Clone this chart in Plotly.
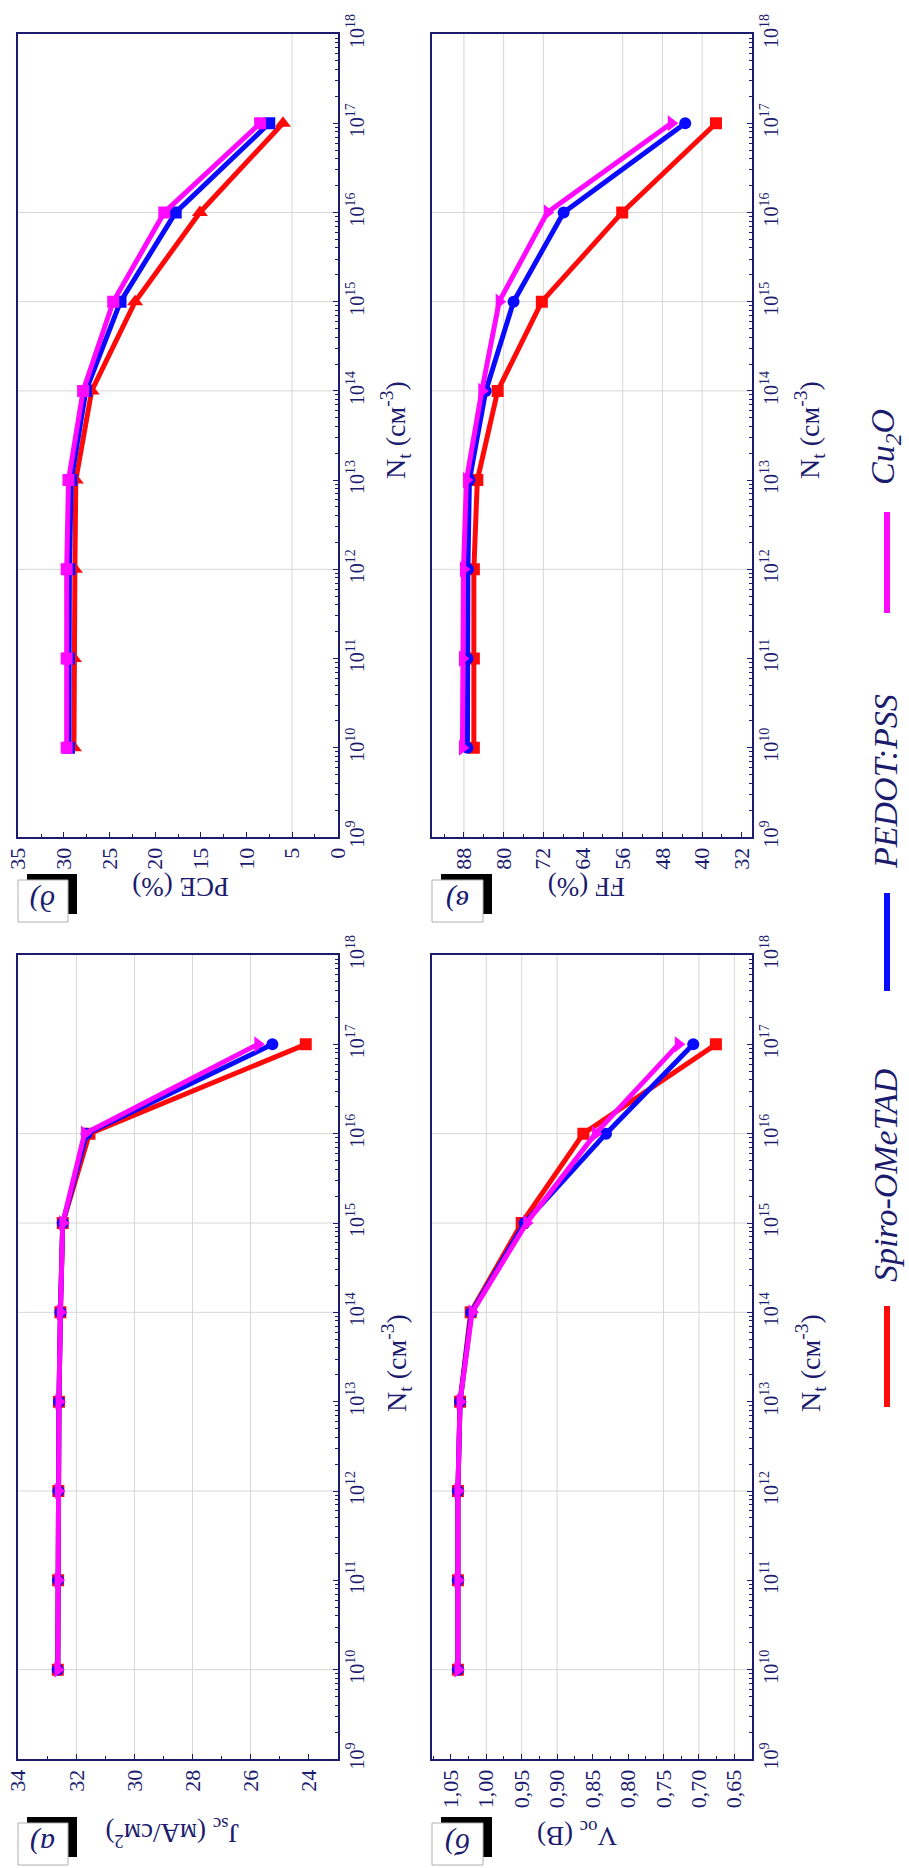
import plotly.graph_objects as go

# ---------------- data ----------------
nt = [1e10, 1e11, 1e12, 1e13, 1e14, 1e15, 1e16, 1e17]
series = ["Spiro-OMeTAD", "PEDOT:PSS", "Cu2O"]

jsc_spiro = [32.64, 32.63, 32.62, 32.60, 32.55, 32.47, 31.55, 24.10]
jsc_pedot = [32.64, 32.63, 32.62, 32.60, 32.55, 32.47, 31.65, 25.25]
jsc_cu2o = [32.64, 32.63, 32.62, 32.60, 32.55, 32.47, 31.72, 25.75]

voc_spiro = [1.040, 1.040, 1.040, 1.037, 1.022, 0.950, 0.863, 0.676]
voc_pedot = [1.040, 1.040, 1.040, 1.037, 1.021, 0.946, 0.831, 0.708]
voc_cu2o = [1.040, 1.040, 1.040, 1.037, 1.020, 0.943, 0.846, 0.729]

pce_spiro = [28.9, 28.9, 28.8, 28.7, 26.96, 22.2, 15.1, 6.0]
pce_pedot = [29.45, 29.45, 29.4, 29.2, 27.6, 23.8, 17.75, 7.5]
pce_cu2o = [29.7, 29.7, 29.7, 29.5, 27.9, 24.6, 19.0, 8.5]

ff_spiro = [86.0, 86.0, 86.0, 85.3, 81.2, 72.3, 56.1, 37.2]
ff_pedot = [87.3, 87.3, 87.2, 86.9, 83.6, 78.0, 67.9, 43.4]
ff_cu2o = [88.3, 88.3, 88.1, 87.5, 84.4, 80.9, 71.2, 46.2]

nt_exponents = list(range(9, 19))
nt_ticktext = [f"10<sup>{k}</sup>" for k in nt_exponents]

# ---------------- style ----------------
W, H = 909, 1868
NAVY = "#1c1c6e"
COLORS = ["#ff0a0a", "#0a0aff", "#ff0aff"]
FONT = "Liberation Serif, Times New Roman, serif"
GRID = "#d6d6d6"


def px(x):
    return x / W


def py(y):
    return 1 - y / H


panels = [
    dict(name="PCE", label="д)", title="PCE (%)",
         data=[pce_spiro, pce_pedot, pce_cu2o],
         symbols=["triangle-up", "square", "square"],
         xdom=(18.3, 337.7), ydom=(34, 837), rng=[35, 0], dtick=5, mdtick=2.5,
         fmt="", vgrid=[5], hgrid=[1e12, 1e14, 1e15, 1e16],
         title_pos=(181, 887), nt_title_pos=(396, 430),
         lab_box=(18, 68, 880, 922)),
    dict(name="FF", label="в)", title="FF (%)",
         data=[ff_spiro, ff_pedot, ff_cu2o],
         symbols=["square", "circle", "triangle-right"],
         xdom=(431.7, 751.7), ydom=(34, 837), rng=[94.5, 30], dtick=8, mdtick=4,
         fmt="", vgrid=[88, 80, 72, 56, 48, 40], hgrid=[1e12, 1e14, 1e15, 1e16],
         title_pos=(587, 887), nt_title_pos=(810, 430),
         lab_box=(432, 483, 880, 922)),
    dict(name="Jsc", label="а)", title="J<sub>sc</sub> (мА/см<sup>2</sup>)",
         data=[jsc_spiro, jsc_pedot, jsc_cu2o],
         symbols=["square", "circle", "triangle-right"],
         xdom=(18.3, 337.7), ydom=(955, 1759), rng=[34, 23], dtick=2, mdtick=1,
         fmt="", vgrid=[32, 30, 28, 26], hgrid=[1e10, 1e12, 1e14, 1e15, 1e16],
         title_pos=(172, 1833), nt_title_pos=(396, 1363),
         lab_box=(18, 68, 1823, 1865)),
    dict(name="Voc", label="б)", title="V<sub>oc</sub> (В)",
         data=[voc_spiro, voc_pedot, voc_cu2o],
         symbols=["square", "circle", "triangle-right"],
         xdom=(431.7, 751.7), ydom=(955, 1759), rng=[1.077, 0.6255], dtick=0.05, mdtick=0.025,
         fmt=".2f", vgrid=[1.00, 0.95, 0.90, 0.75, 0.70, 0.65], hgrid=[1e10, 1e12, 1e14, 1e15, 1e16],
         title_pos=(577, 1834), nt_title_pos=(810, 1363),
         lab_box=(432, 483, 1823, 1865)),
]

fig = go.Figure()
shapes = []
annotations = []
minor_nt = [m * 10 ** k for k in range(9, 18) for m in range(2, 10)]

for i, p in enumerate(panels):
    n = i + 1
    xa = "x" if n == 1 else f"x{n}"
    ya = "y" if n == 1 else f"y{n}"
    xkey = "xaxis" if n == 1 else f"xaxis{n}"
    ykey = "yaxis" if n == 1 else f"yaxis{n}"

    for s, vals in enumerate(p["data"]):
        sym = p["symbols"][s]
        fig.add_trace(go.Scatter(
            x=vals, y=nt, xaxis=xa, yaxis=ya, mode="lines+markers",
            name=series[s], showlegend=False,
            line=dict(color=COLORS[s], width=5),
            marker=dict(symbol=sym, size=14 if "triangle" in sym else 12,
                        color=COLORS[s], line=dict(width=0)),
        ))

    fig.layout[xkey] = dict(
        domain=[px(p["xdom"][0]), px(p["xdom"][1])], anchor=ya, range=p["rng"],
        side="bottom", tick0=0, dtick=p["dtick"], tickformat=p["fmt"], tickangle=-90,
        ticks="inside", ticklen=5, tickwidth=1.2, tickcolor=NAVY,
        minor=dict(dtick=p["mdtick"], tick0=0, ticks="inside", ticklen=3, tickcolor=NAVY, showgrid=False),
        showgrid=False, zeroline=False, showline=True, mirror=True, linecolor=NAVY, linewidth=2,
        tickfont=dict(family=FONT, size=22, color=NAVY), automargin=False,
    )
    fig.layout[ykey] = dict(
        domain=[py(p["ydom"][1]), py(p["ydom"][0])], anchor=xa, type="log", range=[9, 18],
        side="right", tickmode="array", tickvals=[10 ** k for k in nt_exponents], ticktext=nt_ticktext,
        tickangle=-90, ticks="inside", ticklen=5, tickwidth=1.2, tickcolor=NAVY,
        minor=dict(tickvals=minor_nt, ticks="inside", ticklen=3, tickcolor=NAVY, showgrid=False),
        showgrid=False, zeroline=False, showline=True, mirror=True, linecolor=NAVY, linewidth=2,
        tickfont=dict(family=FONT, size=20, color=NAVY), automargin=False,
    )

    # gridlines
    for v in p["vgrid"]:
        shapes.append(dict(type="line", xref=xa, yref=f"{ya} domain", x0=v, x1=v, y0=0, y1=1,
                           line=dict(color=GRID, width=1), layer="below"))
    for v in p["hgrid"]:
        shapes.append(dict(type="line", xref=f"{xa} domain", yref=ya, x0=0, x1=1, y0=v, y1=v,
                           line=dict(color=GRID, width=1), layer="below"))

    # value axis title (upside down)
    tx, ty = p["title_pos"]
    annotations.append(dict(text=p["title"], x=px(tx), y=py(ty), xref="paper", yref="paper",
                            showarrow=False, textangle=180, xanchor="center", yanchor="middle",
                            font=dict(family=FONT, size=27, color=NAVY)))
    # Nt title
    nx, ny = p["nt_title_pos"]
    annotations.append(dict(text="N<sub>t</sub> (см<sup>-3</sup>)", x=px(nx), y=py(ny),
                            xref="paper", yref="paper", showarrow=False, textangle=-90,
                            xanchor="center", yanchor="middle",
                            font=dict(family=FONT, size=28, color=NAVY)))
    # panel label with shadow box
    x0, x1, y0, y1 = p["lab_box"]
    shapes.append(dict(type="rect", xref="paper", yref="paper",
                       x0=px(x0 + 9), x1=px(x1 + 9), y0=py(y1 - 8), y1=py(y0 - 6),
                       fillcolor="black", line=dict(width=0)))
    shapes.append(dict(type="rect", xref="paper", yref="paper",
                       x0=px(x0), x1=px(x1), y0=py(y1), y1=py(y0),
                       fillcolor="white", line=dict(color="#b0b0b0", width=1)))
    annotations.append(dict(text=f"<i>{p['label']}</i>", x=px((x0 + x1) / 2), y=py((y0 + y1) / 2),
                            xref="paper", yref="paper", showarrow=False, textangle=180,
                            xanchor="center", yanchor="middle",
                            font=dict(family=FONT, size=30, color=NAVY)))

# legend (rotated)
legend_items = [
    ("<i>Spiro-OMeTAD</i>", COLORS[0], (1306, 1407), 1175),
    ("<i>PEDOT:PSS</i>", COLORS[1], (893, 991), 782),
    ("<i>Cu<sub>2</sub>O</i>", COLORS[2], (512, 613), 447),
]
for text, col, (l0, l1), tc in legend_items:
    shapes.append(dict(type="line", xref="paper", yref="paper", x0=px(887), x1=px(887),
                       y0=py(l0), y1=py(l1), line=dict(color=col, width=6)))
    annotations.append(dict(text=text, x=px(885), y=py(tc), xref="paper", yref="paper",
                            showarrow=False, textangle=-90, xanchor="center", yanchor="middle",
                            font=dict(family=FONT, size=34, color=NAVY)))

fig.update_layout(
    width=W, height=H, margin=dict(l=0, r=0, t=0, b=0),
    paper_bgcolor="white", plot_bgcolor="white", separators=", ",
    shapes=shapes, annotations=annotations, showlegend=False,
)

fig.write_html("out.html")
